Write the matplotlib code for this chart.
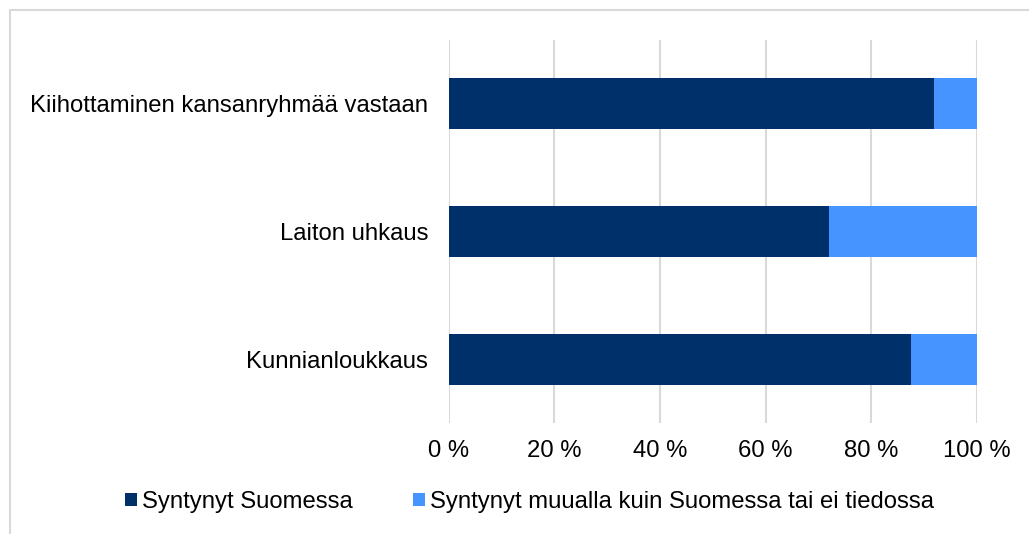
import numpy as np
import matplotlib.pyplot as plt
from matplotlib.patches import Rectangle

# data (share in %)
categories = ['Kiihottaminen kansanryhmää vastaan', 'Laiton uhkaus', 'Kunnianloukkaus']
born_finland = [91.9, 72.0, 87.5]
born_elsewhere = [8.1, 28.0, 12.5]
series_names = ['Syntynyt Suomessa', 'Syntynyt muualla kuin Suomessa tai ei tiedossa']
xticks = [0, 20, 40, 60, 80, 100]

dark = '#00306A'
light = '#4594FF'
fs = 17.2

plt.rcParams['font.family'] = ['Liberation Sans', 'DejaVu Sans']

fig = plt.figure(figsize=(10.29, 5.34), dpi=100)
W, H = 1029, 534
# plot area in pixels: x 448.5-977, y 40-423
ax = fig.add_axes([448.5 / W, 1 - 423 / H, (977 - 448.5) / W, (423 - 40) / H])

y = np.arange(len(categories))
h = 0.4
ax.barh(y, born_finland, height=h, color=dark, label=series_names[0], zorder=3)
ax.barh(y, born_elsewhere, left=born_finland, height=h, color=light, label=series_names[1], zorder=3)

ax.set_xlim(0, 100)
ax.set_ylim(len(categories) - 0.5, -0.5)
ax.set_yticks(y)
ax.set_yticklabels(categories, fontsize=fs)
ax.set_xticks(xticks)
ax.set_xticklabels([f'{t} %' for t in xticks], fontsize=fs)
ax.tick_params(axis='y', length=0, pad=14.5)
ax.tick_params(axis='x', length=0, pad=12.5)
ax.grid(axis='x', color='#D9D9D9', linewidth=1.5, zorder=0)
for s in ax.spines.values():
    s.set_visible(False)

# outer frame of the chart
fig.patches.append(Rectangle((9.5 / W, -0.1), 1.2, 1.1 - 10.5 / H, transform=fig.transFigure,
                             fill=False, edgecolor='#D9D9D9', linewidth=1.5))

leg = fig.legend(loc='center', bbox_to_anchor=(529.5 / W, 1 - 502 / H), ncol=2, frameon=False,
                 fontsize=fs, handlelength=0.52, handleheight=0.52, handletextpad=0.2,
                 columnspacing=2.5)

fig.savefig('out.png', dpi=100)
